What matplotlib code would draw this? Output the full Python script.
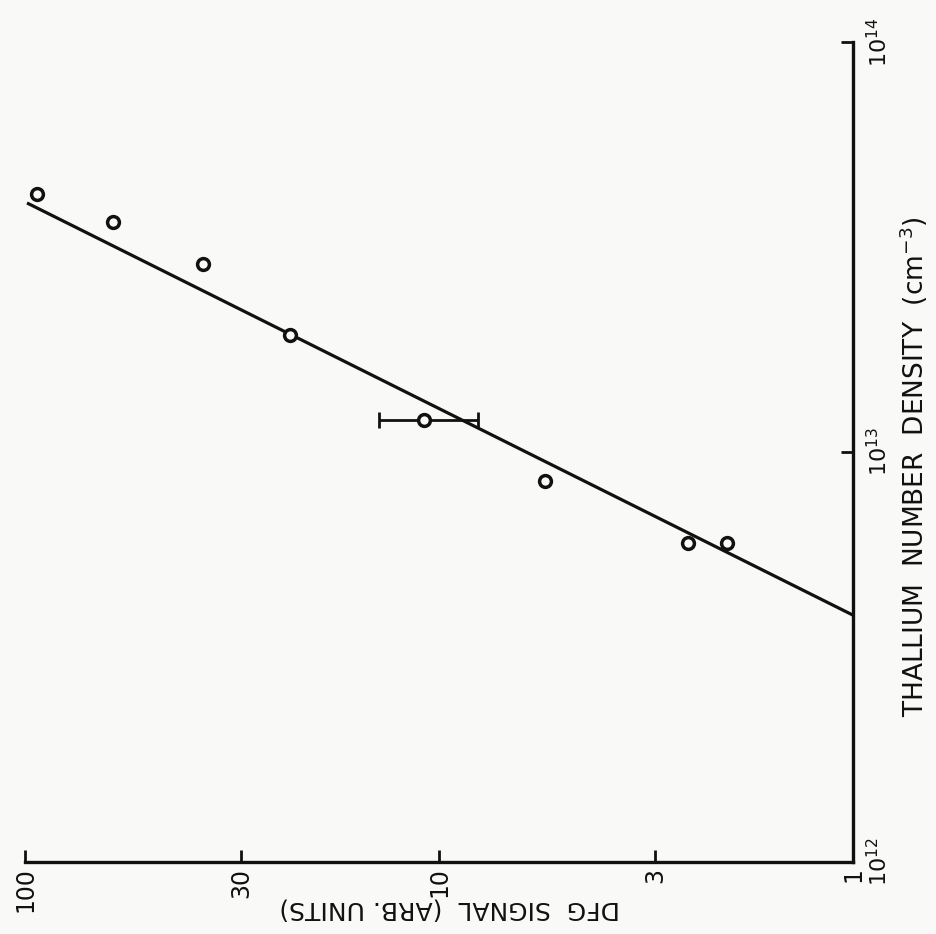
import matplotlib.pyplot as plt
import numpy as np

# thallium number density (cm^-3) and DFG signal (arb. units)
density = [4.26e13, 3.64e13, 2.88e13, 1.93e13, 1.20e13, 8.5e12, 6.0e12, 6.0e12]
signal = [93.6, 61.2, 37.1, 22.9, 10.9, 5.55, 2.51, 2.01]

# error bar on one point (signal range)
err_density = [1.20e13]
err_signal = [10.9]
err_signal_low = [8.06]
err_signal_high = [14.0]

# fitted line (slope 2 on log-log)
fit_density = [4.0e12, 4.05e13]
fit_signal = [1.0, 98.9]

signal_ticks = [100, 30, 10, 3, 1]
signal_labels = ["100", "30", "10", "3", "1"]
density_ticks = [1e12, 1e13, 1e14]
density_labels = [r"$10^{12}$", r"$10^{13}$", r"$10^{14}$"]

bg = "#f9f9f7"
ink = "#111111"

fig = plt.figure(figsize=(9.36, 9.34), dpi=100)
fig.patch.set_facecolor(bg)
ax = fig.add_axes([25 / 936, 72 / 934, 828 / 936, 820 / 934])
ax.set_facecolor(bg)

# the figure is printed rotated: signal runs horizontally, density vertically
ax.set_xscale("log")
ax.set_yscale("log")
ax.set_xlim(100, 1)
ax.set_ylim(1e12, 1e14)

ax.plot(fit_signal, fit_density, color=ink, linewidth=2.3, solid_capstyle="butt")

xerr = np.array([[err_signal[0] - err_signal_low[0]], [err_signal_high[0] - err_signal[0]]])
ax.errorbar(err_signal, err_density, xerr=xerr, fmt="none", ecolor=ink,
            elinewidth=2.0, capsize=5.5, capthick=2.0)

ax.plot(signal, density, linestyle="none", marker="o", markersize=8.5,
        markerfacecolor=bg, markeredgecolor=ink, markeredgewidth=2.5)

ax.spines["top"].set_visible(False)
ax.spines["left"].set_visible(False)
for side in ["bottom", "right"]:
    ax.spines[side].set_linewidth(2.4)
    ax.spines[side].set_color(ink)

ax.xaxis.set_minor_locator(plt.NullLocator())
ax.yaxis.set_minor_locator(plt.NullLocator())
ax.set_xticks(signal_ticks)
ax.set_xticklabels(signal_labels)
ax.set_yticks(density_ticks)
ax.set_yticklabels(density_labels)
ax.yaxis.tick_right()

ax.tick_params(axis="x", direction="in", length=9, width=2, colors=ink,
               labelsize=17, labelrotation=90, pad=4)
ax.tick_params(axis="y", direction="in", length=9, width=2, colors=ink,
               labelsize=16, labelrotation=90, pad=9)
for lab in ax.get_yticklabels():
    lab.set_verticalalignment("center")

fig.text(450 / 936, 1 - 909 / 934, "DFG  SIGNAL  (ARB. UNITS)", fontsize=18,
         rotation=180, ha="center", va="center", color=ink)
fig.text(914 / 936, 1 - 467 / 934, r"THALLIUM  NUMBER  DENSITY  (cm$^{-3}$)",
         fontsize=19, rotation=90, ha="center", va="center", color=ink)

plt.savefig("out.png", dpi=100, facecolor=bg)
